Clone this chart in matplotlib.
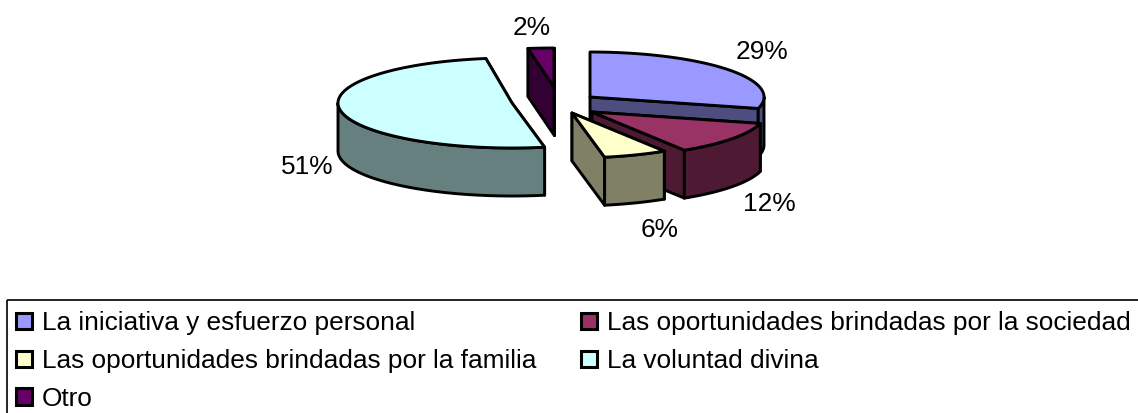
import numpy as np
import matplotlib
matplotlib.use('Agg')
import matplotlib.pyplot as plt
from matplotlib.patches import Patch, Polygon, Rectangle

plt.rcParams['font.family'] = ['Liberation Sans', 'DejaVu Sans']

categories = ['La iniciativa y esfuerzo personal',
              'Las oportunidades brindadas por la sociedad',
              'Las oportunidades brindadas por la familia',
              'La voluntad divina',
              'Otro']
values = [29.1, 12.0, 5.9, 50.6, 2.4]
top_colors = ['#9999ff', '#993366', '#ffffcc', '#ccffff', '#660066']
side_colors = ['#4d4d80', '#4d1933', '#808066', '#668080', '#330033']

# look of the exploded 3d pie, in pixels
CENTER = (557, 100)
RX = 174
RY = [45, 45, 45, 45, 39]
DEPTH = 48
OFFSETS = [(33, -3), (35, 12), (15, 13), (-45, 3), (-3, -13)]
LABEL_POS = [(762, 52), (769, 204), (660, 230), (307, 167), (532, 28)]
LW = 2.1
FONT = 18.9


def ellipse_point(cx, cy, ry, angle):
    # angle in degrees, clockwise from 12 o'clock
    a = np.radians(angle)
    return cx + RX * np.sin(a), cy - ry * np.cos(a)


def add_poly(ax, xs, ys, color):
    ax.add_patch(Polygon(np.column_stack([xs, ys]), closed=True, facecolor=color,
                         edgecolor='black', linewidth=LW, joinstyle='round'))


def draw_slice(ax, start, end, i):
    cx = CENTER[0] + OFFSETS[i][0]
    cy = CENTER[1] + OFFSETS[i][1]
    ry = RY[i]

    # cut faces
    for angle in (start, end):
        x, y = ellipse_point(cx, cy, ry, angle)
        add_poly(ax, [cx, x, x, cx], [cy, y, y + DEPTH, cy + DEPTH], side_colors[i])

    # outer wall, only the part that faces the viewer
    a0, a1 = max(start, 90), min(end, 270)
    if a1 > a0:
        angles = np.linspace(a0, a1, 80)
        x, y = ellipse_point(cx, cy, ry, angles)
        add_poly(ax, np.r_[x, x[::-1]], np.r_[y, y[::-1] + DEPTH], side_colors[i])

    # top face
    angles = np.linspace(start, end, 120)
    x, y = ellipse_point(cx, cy, ry, angles)
    add_poly(ax, np.r_[cx, x], np.r_[cy, y], top_colors[i])


fig = plt.figure(figsize=(11.38, 4.13), dpi=100)
ax = fig.add_axes([0, 0, 1, 1])
ax.set_xlim(0, 1138)
ax.set_ylim(413, 0)
ax.axis('off')

edges = np.r_[0, np.cumsum(values)] / sum(values) * 360
for i in [4, 0, 3, 1, 2]:
    draw_slice(ax, edges[i], edges[i + 1], i)

for v, (x, y) in zip(values, LABEL_POS):
    ax.text(x, y, f'{round(v)}%', ha='center', va='center', fontsize=FONT)

# the legend box runs off the right and bottom of the picture
ax.add_patch(Rectangle((7, 300), 1200, 200, fill=False, edgecolor='black',
                       linewidth=1.2, clip_on=True))

# legend fills columns first, the picture reads row by row
order = [0, 2, 4, 1, 3]
handles = [Patch(facecolor=top_colors[i], edgecolor='black', linewidth=2.2,
                 label=categories[i], joinstyle='round') for i in order]
ax.legend(handles=handles, ncol=2, loc='upper left',
          bbox_to_anchor=(7, 302), bbox_transform=ax.transData,
          borderaxespad=0, borderpad=0.35, fontsize=FONT,
          handlelength=0.6, handleheight=0.6, handletextpad=0.38,
          labelspacing=0.53, columnspacing=1.7, frameon=False)

fig.savefig('out.png', dpi=100)
